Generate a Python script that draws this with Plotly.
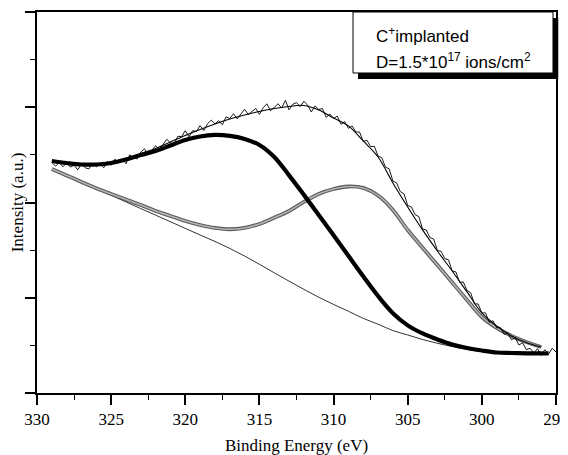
import plotly.graph_objects as go

# ---------------- data ----------------
# Fit energies (eV)
E_fit = [329, 328, 327, 326, 325, 324, 323, 322, 321, 320, 319, 318, 317, 316, 315,
         314, 313, 312, 311, 310, 309, 308, 307, 306, 305, 304, 303, 302, 301, 300,
         299, 298, 297, 296]
E_fit_ext = E_fit + [295.5]

# Shirley-type background
background = [2352, 2283, 2213, 2144, 2075, 2006, 1936, 1867, 1798, 1728, 1659, 1591, 1518,
              1438, 1351, 1262, 1174, 1088, 1005, 930, 858, 784, 722, 656, 609, 562, 522,
              487, 457, 436, 425, 417, 413, 410, 410]

# Component 1 (~318 eV) + background  (thick black)
peak1 = [2436, 2415, 2399, 2399, 2415, 2452, 2499, 2541, 2599, 2657, 2693, 2709, 2699,
         2667, 2604, 2478, 2285, 2080, 1868, 1655, 1440, 1225, 1018, 838, 710, 625, 562,
         509, 473, 446, 425, 420, 417, 415, 415]

# Component 2 (~309 eV) + background  (gray)
peak2 = [2352, 2284, 2216, 2150, 2090, 2032, 1974, 1911, 1859, 1806, 1764, 1733, 1719,
         1733, 1775, 1840, 1911, 2006, 2090, 2142, 2168, 2153, 2074, 1922, 1711, 1526,
         1344, 1160, 977, 798, 683, 599, 536, 483]

# Total fit envelope
envelope = [2436, 2415, 2399, 2405, 2426, 2462, 2515, 2567, 2636, 2704, 2767, 2825, 2877,
            2919, 2956, 2987, 3008, 3019, 2972, 2888, 2804, 2646, 2478, 2205, 1953, 1712,
            1491, 1281, 1061, 840, 704, 599, 530, 483]

# Measured spectrum
E_data = [329.00, 328.75, 328.50, 328.25, 328.00, 327.75, 327.50, 327.25, 327.00, 326.75,
          326.50, 326.25, 326.00, 325.75, 325.50, 325.25, 325.00, 324.75, 324.50, 324.25,
          324.00, 323.75, 323.50, 323.25, 323.00, 322.75, 322.50, 322.25, 322.00, 321.75,
          321.50, 321.25, 321.00, 320.75, 320.50, 320.25, 320.00, 319.75, 319.50, 319.25,
          319.00, 318.75, 318.50, 318.25, 318.00, 317.75, 317.50, 317.25, 317.00, 316.75,
          316.50, 316.25, 316.00, 315.75, 315.50, 315.25, 315.00, 314.75, 314.50, 314.25,
          314.00, 313.75, 313.50, 313.25, 313.00, 312.75, 312.50, 312.25, 312.00, 311.75,
          311.50, 311.25, 311.00, 310.75, 310.50, 310.25, 310.00, 309.75, 309.50, 309.25,
          309.00, 308.75, 308.50, 308.25, 308.00, 307.75, 307.50, 307.25, 307.00, 306.75,
          306.50, 306.25, 306.00, 305.75, 305.50, 305.25, 305.00, 304.75, 304.50, 304.25,
          304.00, 303.75, 303.50, 303.25, 303.00, 302.75, 302.50, 302.25, 302.00, 301.75,
          301.50, 301.25, 301.00, 300.75, 300.50, 300.25, 300.00, 299.75, 299.50, 299.25,
          299.00, 298.75, 298.50, 298.25, 298.00, 297.75, 297.50, 297.25, 297.00, 296.75,
          296.50, 296.25, 296.00, 295.75, 295.50, 295.25, 295.00]
I_data = [2421, 2381, 2421, 2375, 2415, 2371, 2392, 2343, 2404, 2365,
          2352, 2413, 2375, 2405, 2365, 2431, 2391, 2455, 2419, 2458,
          2407, 2500, 2473, 2457, 2530, 2563, 2501, 2554, 2597, 2554,
          2616, 2664, 2626, 2618, 2695, 2692, 2754, 2690, 2755, 2746,
          2807, 2756, 2826, 2865, 2825, 2858, 2816, 2899, 2882, 2932,
          2878, 2933, 2979, 2923, 2952, 2987, 2926, 2994, 3036, 2964,
          2997, 3037, 2992, 3073, 2973, 3031, 3048, 3006, 3064, 3022,
          2950, 3014, 2977, 2986, 2895, 2929, 2883, 2907, 2821, 2850,
          2779, 2804, 2740, 2740, 2641, 2654, 2587, 2590, 2488, 2470,
          2371, 2353, 2225, 2207, 2114, 2091, 1968, 1953, 1872, 1852,
          1722, 1712, 1631, 1616, 1496, 1488, 1411, 1398, 1281, 1271,
          1161, 1166, 1076, 1051, 935, 935, 840, 841, 742, 758,
          684, 688, 616, 630, 559, 582, 504, 527, 455, 470,
          420, 465, 395, 455, 410, 470, 430]

x_ticks = [330, 325, 320, 315, 310, 305, 300, 295]
x_title = "Binding Energy (eV)"
y_title = "Intensity (a.u.)"
legend_line1 = "C<sup>+</sup>implanted"
legend_line2 = "D=1.5*10<sup>17</sup> ions/cm<sup>2</sup>"

# ---------------- figure ----------------
fig = go.Figure()

fig.add_trace(go.Scatter(x=E_fit_ext, y=background, mode="lines",
                         line=dict(color="black", width=0.8, shape="spline"),
                         hoverinfo="skip"))
fig.add_trace(go.Scatter(x=E_fit, y=peak2, mode="lines",
                         line=dict(color="#5a5a5a", width=3.8, shape="spline"),
                         hoverinfo="skip"))
fig.add_trace(go.Scatter(x=E_fit, y=peak2, mode="lines",
                         line=dict(color="#b4b4b4", width=1.6, shape="spline"),
                         hoverinfo="skip"))
fig.add_trace(go.Scatter(x=E_fit_ext, y=peak1, mode="lines",
                         line=dict(color="black", width=4.2, shape="spline"),
                         hoverinfo="skip"))
fig.add_trace(go.Scatter(x=E_data, y=I_data, mode="lines",
                         line=dict(color="black", width=0.9),
                         hoverinfo="skip"))
fig.add_trace(go.Scatter(x=E_fit, y=envelope, mode="lines",
                         line=dict(color="black", width=1.1, shape="spline"),
                         hoverinfo="skip"))

serif = "Liberation Serif"
sans = "Liberation Sans"

# the page body adds an 8 px offset, so the figure is sized to fit the window
fig.update_layout(
    width=560, height=447,
    margin=dict(l=29, r=12, t=4, b=62, autoexpand=False),
    plot_bgcolor="white", paper_bgcolor="white",
    showlegend=False,
    xaxis=dict(
        range=[330, 295], tickvals=x_ticks, ticktext=[str(v) for v in x_ticks],
        ticks="outside", ticklen=10, tickwidth=1.5, tickcolor="black",
        ticklabeloverflow="allow",
        showline=True, linewidth=1.5, linecolor="black", mirror=True,
        showgrid=False, zeroline=False, automargin=False,
        tickfont=dict(family=serif, size=17, color="black"),
        title=dict(text=x_title, font=dict(family=serif, size=17, color="black"),
                   standoff=19),
        minor=dict(dtick=2.5, tick0=295, ticks="outside", ticklen=5, tickwidth=1.3,
                   tickcolor="black", showgrid=False),
    ),
    yaxis=dict(
        range=[0, 4000], dtick=1000, tick0=0,
        ticks="outside", ticklen=10, tickwidth=1.5, tickcolor="black",
        showticklabels=False,
        showline=True, linewidth=1.5, linecolor="black", mirror=True,
        showgrid=False, zeroline=False, automargin=False,
        title=dict(text=y_title, font=dict(family=serif, size=17, color="black"),
                   standoff=3),
        minor=dict(dtick=500, tick0=0, ticks="outside", ticklen=5, tickwidth=1.3,
                   tickcolor="black", showgrid=False),
    ),
)

# legend-like box with drop shadow (paper coordinates of the plot area)
fig.add_shape(type="rect", xref="paper", yref="paper",
              x0=0.6185, x1=1.0044, y0=0.8241, y1=0.9843,
              fillcolor="black", line=dict(width=0), layer="above")
fig.add_shape(type="rect", xref="paper", yref="paper",
              x0=0.6089, x1=0.9942, y0=0.8399, y1=1.0,
              fillcolor="white", line=dict(color="black", width=1), layer="above")
fig.add_annotation(xref="paper", yref="paper", x=0.6493, y=0.9396,
                   xanchor="left", yanchor="middle", showarrow=False,
                   text=legend_line1, font=dict(family=sans, size=17, color="black"))
fig.add_annotation(xref="paper", yref="paper", x=0.6493, y=0.8727,
                   xanchor="left", yanchor="middle", showarrow=False,
                   text=legend_line2, font=dict(family=sans, size=17, color="black"))

fig.write_html("out.html")
